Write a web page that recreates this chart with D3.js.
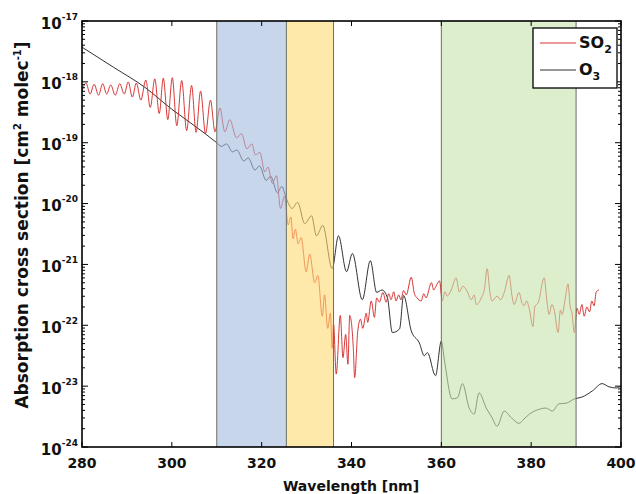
<!DOCTYPE html>
<html>
<head>
<meta charset="utf-8">
<style>
  body { margin: 0; background: #fff; }
  svg text { font-family: "DejaVu Sans", "Liberation Sans", sans-serif; font-weight: bold; fill: #111; }
</style>
</head>
<body>
<svg id="chart" width="636" height="494"></svg>

<script src="https://d3js.org/d3.v7.min.js"></script>
<script>
    // data
    const so2Wavelength = [280.0, 280.9, 281.8, 282.7, 283.7, 284.6, 285.5, 286.4, 287.4, 288.4, 289.4, 290.3, 291.2, 292.1, 293.1,
      294.2, 295.2, 296.2, 297.2, 298.1, 299.1, 300.1, 301.1, 302.2, 303.3, 304.4, 305.4, 306.4, 307.5, 308.6, 309.6,
      310.7, 311.8, 312.9, 314.4, 315.5, 316.7, 317.8, 318.6, 319.6, 320.7, 321.4, 322.4, 323.3, 324.2, 325.1,
      325.9, 326.5, 327.0, 327.5, 328.1, 328.8, 329.9, 330.7, 331.8, 332.5, 333.5, 334.0, 334.7, 335.3, 335.7,
      336.0, 336.6, 337.5, 338.1, 338.7, 339.2, 339.6, 340.4, 340.7, 341.4, 342.0, 342.5, 343.3, 343.6, 344.4,
      345.1, 345.6, 346.2, 347.0, 347.7, 348.3, 348.8, 349.4, 349.9, 350.5, 351.0, 351.6, 352.2, 353.3, 354.0,
      354.6, 355.5, 356.1, 356.6, 357.8, 358.3, 358.8, 359.6, 360.2, 360.8, 361.3, 362.2, 363.3, 364.0, 364.8,
      365.6, 366.7, 367.3, 367.8, 368.9, 369.6, 370.2, 370.8, 371.3, 372.4, 373.2, 374.0, 375.1, 375.7, 376.2,
      377.3, 377.9, 378.4, 379.0, 379.6, 380.4, 380.8, 381.6, 382.9, 383.5, 384.0, 384.6, 385.1, 386.0, 386.5,
      386.9, 387.6, 388.2, 388.7, 389.1, 389.6, 390.2, 390.7, 391.3, 391.8, 392.4, 393.0, 393.5, 394.0, 394.5, 395.1];
    const so2Cross = [7.08e-19, 9.55e-19, 6.31e-19, 9.12e-19, 6.03e-19, 9.33e-19, 6.31e-19, 8.91e-19, 6.03e-19, 9.33e-19, 6.31e-19, 1.0e-18, 5.62e-19, 9.55e-19, 5.01e-19,
      1.07e-18, 3.80e-19, 1.12e-18, 3.02e-19, 1.15e-18, 2.40e-19, 1.17e-18, 1.91e-19, 1.05e-18, 1.58e-19, 8.71e-19, 1.48e-19, 7.08e-19, 1.41e-19, 5.01e-19, 1.51e-19,
      3.72e-19, 1.51e-19, 2.40e-19, 1.20e-19, 1.41e-19, 7.94e-20, 9.55e-20, 6.31e-20, 6.92e-20, 3.31e-20, 3.98e-20, 2.14e-20, 2.88e-20, 8.32e-21, 1.32e-20,
      4.47e-21, 6.03e-21, 2.63e-21, 3.80e-21, 2.19e-21, 2.75e-21, 7.59e-22, 1.48e-21, 5.01e-22, 6.61e-22, 1.41e-22, 3.16e-22, 8.91e-23, 1.58e-22, 4.17e-23,
      1.05e-22, 1.58e-23, 1.45e-22, 2.95e-23, 7.08e-23, 2.29e-23, 1.45e-22, 4.27e-23, 1.38e-23, 8.13e-23, 1.26e-22, 8.91e-23, 1.58e-22, 1.12e-22, 2.51e-22,
      1.35e-22, 2.82e-22, 2.40e-22, 3.47e-22, 2.40e-22, 3.31e-22, 2.63e-22, 3.55e-22, 2.51e-22, 3.16e-22, 2.63e-22, 3.72e-22, 3.16e-22, 6.17e-22, 3.31e-22,
      2.82e-22, 2.51e-22, 3.31e-22, 2.82e-22, 5.01e-22, 3.80e-22, 4.37e-22, 5.37e-22, 2.51e-22, 3.55e-22, 3.02e-22, 3.80e-22, 6.03e-22, 3.55e-22, 4.37e-22,
      3.80e-22, 2.63e-22, 3.16e-22, 2.19e-22, 2.82e-22, 3.98e-22, 8.51e-22, 3.55e-22, 2.51e-22, 3.02e-22, 2.63e-22, 3.47e-22, 6.61e-22, 3.16e-22, 2.19e-22,
      3.47e-22, 2.40e-22, 2.09e-22, 2.51e-22, 1.82e-22, 9.55e-23, 2.0e-22, 2.40e-22, 6.03e-22, 2.51e-22, 1.51e-22, 2.19e-22, 1.82e-22, 7.59e-23, 1.78e-22,
      1.51e-22, 2.82e-22, 4.79e-22, 2.0e-22, 1.58e-22, 7.59e-23, 1.91e-22, 1.51e-22, 2.19e-22, 1.41e-22, 2.0e-22, 1.66e-22, 2.51e-22, 2.09e-22, 3.55e-22, 3.80e-22];

    const o3Wavelength = [280.0, 287.0, 294.0, 300.0, 305.0, 310.0, 311.0, 312.2, 313.5, 314.5, 316.0, 317.0, 318.5, 319.5, 321.0,
      322.0, 323.5, 324.5, 325.5, 326.8, 328.0, 329.6, 331.1, 332.2, 333.6, 335.7, 337.1, 338.9, 340.2, 342.4,
      344.2, 345.6, 346.8, 348.0, 349.1, 350.7, 351.6, 353.3, 355.1, 356.2, 356.9, 358.7, 360.0, 360.7, 362.4,
      363.6, 364.7, 366.2, 367.3, 368.4, 370.0, 371.3, 372.4, 374.0, 375.6, 377.3, 378.4, 379.6, 381.8, 383.3,
      384.7, 386.2, 387.8, 389.6, 391.3, 393.6, 395.8, 397.3, 398.9, 400.0];
    const o3Cross = [3.72e-18, 1.74e-18, 8.13e-19, 3.55e-19, 1.91e-19, 1.0e-19, 8.71e-20, 9.55e-20, 7.08e-20, 7.59e-20, 5.01e-20, 5.62e-20, 3.55e-20, 4.17e-20, 2.40e-20,
      2.82e-20, 1.51e-20, 1.91e-20, 1.20e-20, 8.32e-21, 1.05e-20, 4.68e-21, 6.31e-21, 2.95e-21, 4.37e-21, 8.51e-22, 2.95e-21, 7.59e-22, 1.51e-21, 2.63e-22,
      1.15e-21, 3.47e-22, 3.80e-22, 2.82e-22, 7.59e-23, 8.71e-23, 3.09e-22, 8.13e-23, 5.13e-23, 3.16e-23, 3.55e-23, 1.48e-23, 5.50e-23, 2.63e-23, 6.17e-24,
      6.46e-24, 1.10e-23, 4.37e-24, 3.47e-24, 7.76e-24, 4.37e-24, 3.02e-24, 2.19e-24, 3.89e-24, 3.02e-24, 2.45e-24, 2.88e-24, 3.47e-24, 4.17e-24, 4.37e-24,
      3.89e-24, 5.13e-24, 5.25e-24, 6.17e-24, 6.61e-24, 8.32e-24, 1.10e-23, 9.77e-24, 9.33e-24, 1.0e-23];

    // shaded spectral windows [nm]
    const bandStart = [310, 325.5, 360];
    const bandEnd = [325.5, 336, 390];
    const bandColors = ['#a3bbde', '#fdd971', '#c6e3ac'];

    const xTicks = [280, 300, 320, 340, 360, 380, 400];
    const yExponents = [-17, -18, -19, -20, -21, -22, -23, -24];

    const pl = 82, pr = 621, pt = 21, pb = 447;
    const svg = d3.select('#chart');

    const x = d3.scaleLinear().domain([280, 400]).range([pl, pr]);
    const y = d3.scaleLog().domain([1e-24, 1e-17]).range([pb, pt]);

    const line = d3.line()
                   .x(d => x(d[0]))
                   .y(d => y(d[1]))
                   .curve(d3.curveMonotoneX);

    const so2 = so2Wavelength.map((w, i) => [w, so2Cross[i]]);
    const o3 = o3Wavelength.map((w, i) => [w, o3Cross[i]]);

    svg.append('path').datum(o3)
       .attr('d', line).attr('fill', 'none')
       .attr('stroke', '#1a1a1a').attr('stroke-width', 0.9);
    svg.append('path').datum(so2)
       .attr('d', line).attr('fill', 'none')
       .attr('stroke', '#d42020').attr('stroke-width', 0.9);

    // bands sit over the spectra, semi transparent
    const bands = bandStart.map((s, i) => ({s: s, e: bandEnd[i], c: bandColors[i]}));
    svg.append('g').selectAll('rect')
       .data(bands).enter().append('rect')
       .attr('x', d => x(d.s)).attr('y', pt)
       .attr('width', d => x(d.e) - x(d.s)).attr('height', pb - pt)
       .attr('fill', d => d.c).attr('fill-opacity', 0.6);
    const edges = Array.from(new Set(bandStart.concat(bandEnd)));
    svg.append('g').selectAll('line')
       .data(edges).enter().append('line')
       .attr('x1', d => x(d)).attr('x2', d => x(d))
       .attr('y1', pt).attr('y2', pb)
       .attr('stroke', '#6a6f64').attr('stroke-width', 1);

    // ticks, inward on all four sides
    const tk = svg.append('g').attr('stroke', '#000').attr('stroke-width', 1);
    xTicks.forEach(t => {
      tk.append('line').attr('x1', x(t)).attr('x2', x(t)).attr('y1', pb).attr('y2', pb - 5);
      tk.append('line').attr('x1', x(t)).attr('x2', x(t)).attr('y1', pt).attr('y2', pt + 5);
    });
    yExponents.forEach(e => {
      const v = Math.pow(10, e);
      tk.append('line').attr('x1', pl).attr('x2', pl + 6).attr('y1', y(v)).attr('y2', y(v));
      tk.append('line').attr('x1', pr).attr('x2', pr - 6).attr('y1', y(v)).attr('y2', y(v));
      if (e > -24) {
        for (let k = 2; k <= 9; k++) {
          const m = k * Math.pow(10, e - 1);
          tk.append('line').attr('x1', pl).attr('x2', pl + 3).attr('y1', y(m)).attr('y2', y(m));
          tk.append('line').attr('x1', pr).attr('x2', pr - 3).attr('y1', y(m)).attr('y2', y(m));
        }
      }
    });

    svg.append('rect').attr('x', pl).attr('y', pt)
       .attr('width', pr - pl).attr('height', pb - pt)
       .attr('fill', 'none').attr('stroke', '#000').attr('stroke-width', 1.6);

    // tick labels
    svg.append('g').selectAll('text')
       .data(xTicks).enter().append('text')
       .attr('x', d => x(d)).attr('y', pb + 21)
       .attr('text-anchor', 'middle').style('font-size', '14px')
       .text(d => d);

    const yl = svg.append('g').selectAll('text')
       .data(yExponents).enter().append('text')
       .attr('x', 78).attr('y', d => y(Math.pow(10, d)) + 7.5)
       .attr('text-anchor', 'end');
    yl.append('tspan').style('font-size', '15px').text('10');
    yl.append('tspan').style('font-size', '9px').attr('dy', -9).text(d => d);

    // axis titles
    svg.append('text').attr('x', 351).attr('y', 491)
       .attr('text-anchor', 'middle').style('font-size', '14px')
       .text('Wavelength [nm]');

    const yt = svg.append('text')
       .attr('transform', 'translate(28,225) rotate(-90)')
       .attr('text-anchor', 'middle').style('font-size', '17px');
    yt.append('tspan').text('Absorption cross section [cm');
    yt.append('tspan').style('font-size', '10px').attr('dy', -7).text('2');
    yt.append('tspan').attr('dy', 7).text(' molec');
    yt.append('tspan').style('font-size', '10px').attr('dy', -7).text('-1');
    yt.append('tspan').attr('dy', 7).text(']');

    // legend
    const lg = svg.append('g');
    lg.append('rect').attr('x', 533).attr('y', 28).attr('width', 84).attr('height', 60)
      .attr('fill', '#fff').attr('stroke', '#000').attr('stroke-width', 1.3);
    const legendItems = [{name: 'SO', sub: '2', color: '#d42020', y: 43},
                         {name: 'O', sub: '3', color: '#1a1a1a', y: 70}];
    legendItems.forEach(d => {
      lg.append('line').attr('x1', 540).attr('x2', 576).attr('y1', d.y).attr('y2', d.y)
        .attr('stroke', d.color).attr('stroke-width', 0.9);
      const t = lg.append('text').attr('x', 579).attr('y', d.y + 5).style('font-size', '16px');
      t.append('tspan').text(d.name);
      t.append('tspan').style('font-size', '11px').attr('dy', 5).text(d.sub);
    });
</script>
</body>
</html>
